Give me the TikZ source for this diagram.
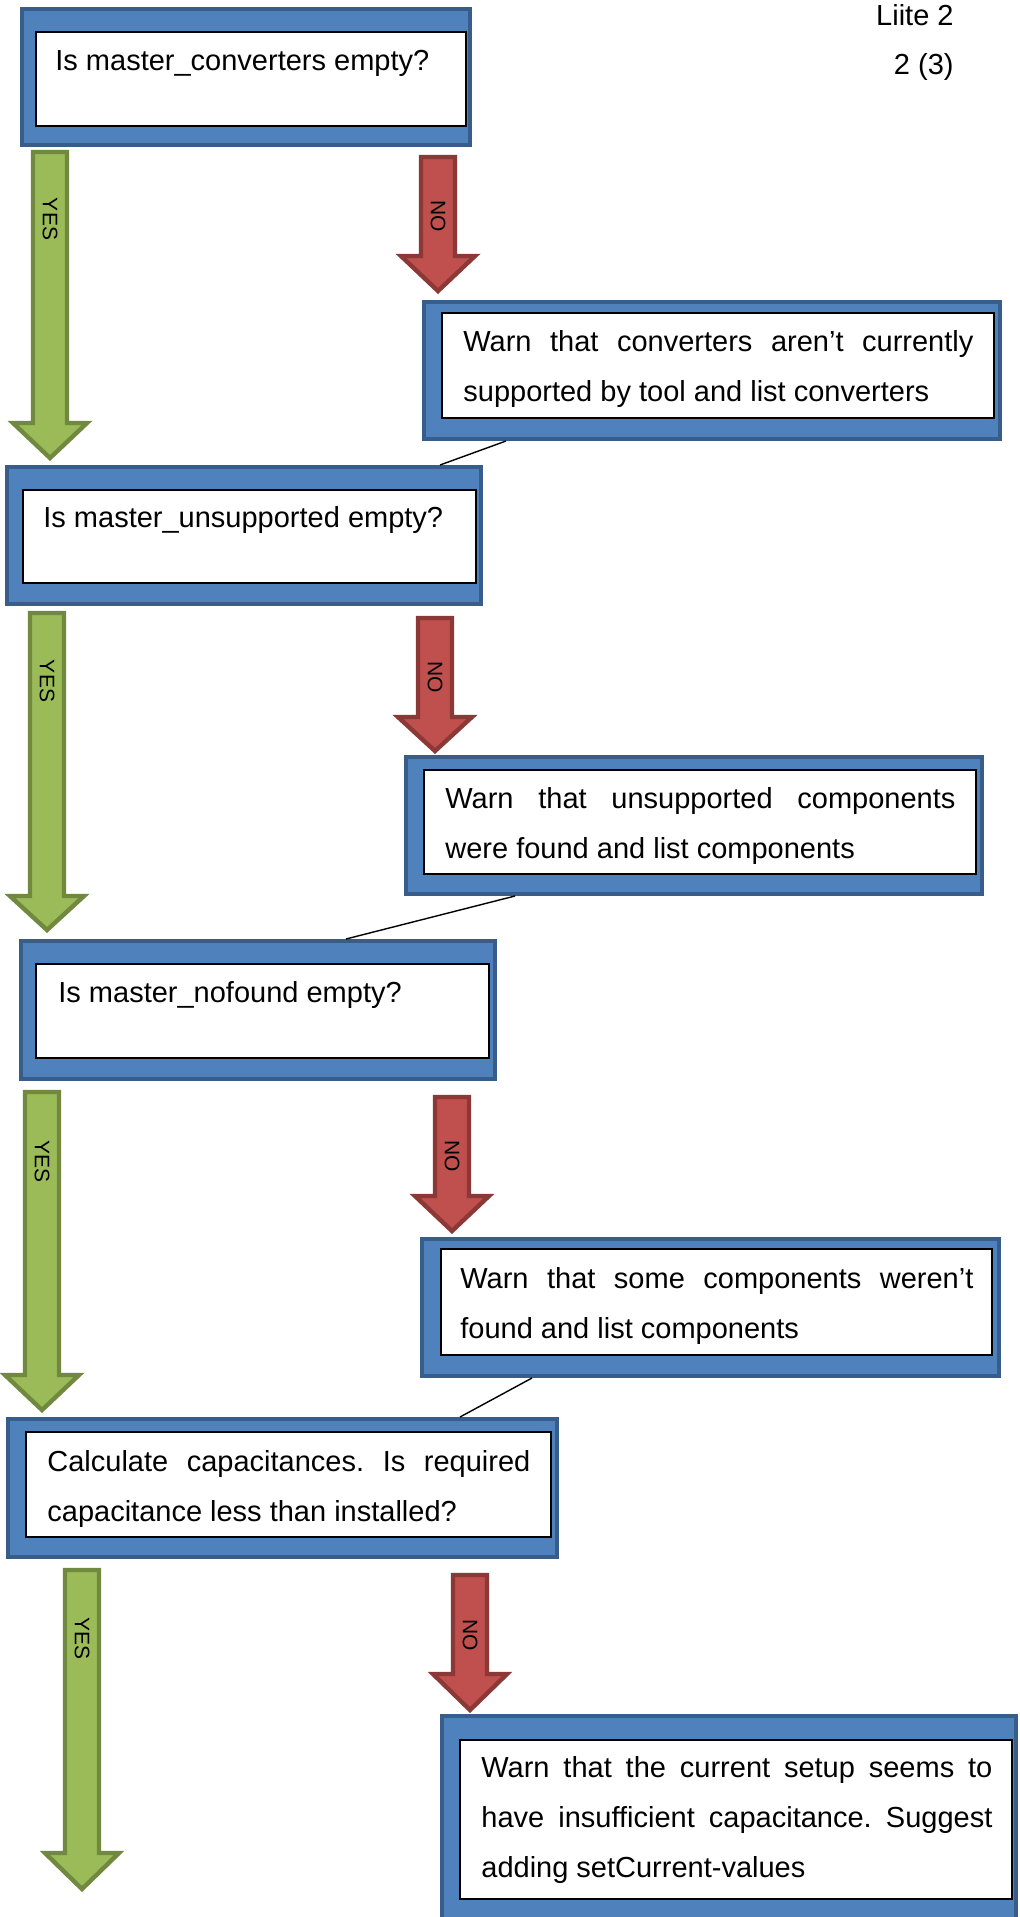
\documentclass[tikz,border=0pt]{standalone}
\usepackage{fontspec}
\setmainfont{Liberation Sans}
\usetikzlibrary{fit,calc}
\definecolor{boxfill}{HTML}{4F81BD}
\definecolor{boxline}{HTML}{385D8A}
\definecolor{yesfill}{HTML}{9BBB59}
\definecolor{yesline}{HTML}{71893F}
\definecolor{nofill}{HTML}{C0504D}
\definecolor{noline}{HTML}{8C3836}
\tolerance=10000
\hyphenpenalty=10000
\frenchspacing
\newcommand{\txtfont}{\fontsize{14.5pt}{25pt}\selectfont}
\newcommand{\lblfont}{\fontsize{10.5pt}{12pt}\selectfont}
\newcommand{\blockarr}[5]{%
  \draw[#1] (#2-17,#3) -- (#2+17,#3) -- (#2+17,#4) -- (#2+37,#4) -- (#2,#5) -- (#2-37,#4) -- (#2-17,#4) -- cycle;}
\begin{document}
\begin{tikzpicture}[x=0.5pt,y=-0.5pt,
  outerbox/.style={draw=boxline, fill=boxfill, line width=2pt, inner sep=0pt, rectangle},
  innerbox/.style={draw=black, fill=white, line width=0.7pt, inner sep=0pt, rectangle},
  txt/.style={inner sep=0pt, font=\txtfont, anchor=base west},
  para/.style={txt, text width=#1, align=justify},
  yesarr/.style={draw=yesline, fill=yesfill, line width=2.2pt, line join=miter},
  noarr/.style={draw=noline, fill=nofill, line width=2.2pt, line join=miter},
  lbl/.style={font=\lblfont, rotate=-90, inner sep=0pt},
  link/.style={draw=black, line width=0.7pt}]
\useasboundingbox (0,0) rectangle (1019,1917);
\clip (0,0) rectangle (1019,1917);

% header
\node[txt, anchor=base east] (p1) at (954,25) {Liite 2};
\node[txt, anchor=base east] (p2) at (954,74) {2 (3)};

% box 1
\node[outerbox, fit={(22,9) (470,145)}] (b1) {};
\node[innerbox, fit={(36,32) (466,126)}] (i1) {};
\node[txt] (t1) at (55,70) {Is master\_converters empty?};

% arrows 1
\blockarr{yesarr}{50}{152}{423}{458}
\node[lbl] (y1) at (50,219) {YES};
\blockarr{noarr}{438}{157}{256}{291}
\node[lbl] (n1) at (438,216) {NO};

% box 2
\node[outerbox, fit={(424,302) (1000,439)}] (b2) {};
\node[innerbox, fit={(442,313) (994,418)}] (i2) {};
\node[para=255pt] (t2) at (463,351) {Warn that converters aren’t currently supported by tool and list converters};

% box 3
\node[outerbox, fit={(7,467) (481,604)}] (b3) {};
\node[innerbox, fit={(23,490) (476,583)}] (i3) {};
\node[txt] (t3) at (43,527) {Is master\_unsupported empty?};
\draw[link] ($(b2.south west)+(84,0)$) -- ($(b3.north west)+(435,0)$);

% arrows 2
\blockarr{yesarr}{47}{613}{896}{930}
\node[lbl] (y2) at (47,681) {YES};
\blockarr{noarr}{435}{618}{717}{751}
\node[lbl] (n2) at (435,677) {NO};

% box 4
\node[outerbox, fit={(406,757) (982,894)}] (b4) {};
\node[innerbox, fit={(424,770) (976,874)}] (i4) {};
\node[para=255pt] (t4) at (445,808) {Warn that unsupported components were found and list components};

% box 5
\node[outerbox, fit={(21,941) (495,1079)}] (b5) {};
\node[innerbox, fit={(36,964) (489,1058)}] (i5) {};
\node[txt] (t5) at (58,1002) {Is master\_nofound empty?};
\draw[link] ($(b4.south west)+(111,0)$) -- ($(b5.north west)+(327,0)$);

% arrows 3
\blockarr{yesarr}{42}{1092}{1375}{1410}
\node[lbl] (y3) at (42,1161) {YES};
\blockarr{noarr}{452}{1097}{1196}{1231}
\node[lbl] (n3) at (452,1156) {NO};

% box 6
\node[outerbox, fit={(422,1239) (999,1376)}] (b6) {};
\node[innerbox, fit={(441,1249) (992,1355)}] (i6) {};
\node[para=256.5pt] (t6) at (460,1288) {Warn that some components weren’t found and list components};

% box 7
\node[outerbox, fit={(8,1419) (557,1557)}] (b7) {};
\node[innerbox, fit={(26,1432) (551,1537)}] (i7) {};
\node[para=241.5pt] (t7) at (47,1471) {Calculate capacitances. Is required capacitance less than installed?};
\draw[link] ($(b6.south west)+(112,0)$) -- ($(b7.north west)+(454,0)$);

% arrows 4
\blockarr{yesarr}{82}{1570}{1853}{1889}
\node[lbl] (y4) at (82,1638) {YES};
\blockarr{noarr}{470}{1575}{1674}{1710}
\node[lbl] (n4) at (470,1635) {NO};

% box 8
\node[outerbox, fit={(442,1716) (1016,1935)}] (b8) {};
\node[innerbox, fit={(460,1740) (1012,1899)}] (i8) {};
\node[para=255.5pt] (t8) at (481,1777) {Warn that the current setup seems to have insufficient capacitance. Suggest adding setCurrent-values};
\end{tikzpicture}
\end{document}
